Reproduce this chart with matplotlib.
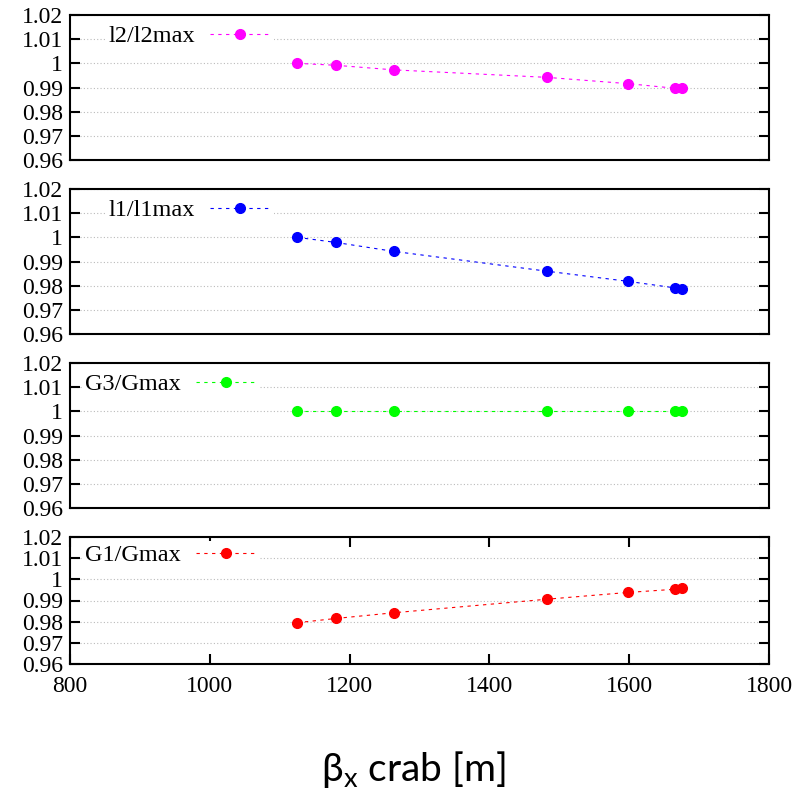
import numpy as np
import matplotlib
matplotlib.use("Agg")
import matplotlib.pyplot as plt
from matplotlib.ticker import FuncFormatter

# ---------------- data ----------------
beta_x = [1125, 1180, 1263, 1482, 1598, 1665, 1675]
l2_ratio = [1.0, 0.9992, 0.9973, 0.9942, 0.9916, 0.9897, 0.9896]
l1_ratio = [1.0, 0.9979, 0.9942, 0.9860, 0.9818, 0.9791, 0.9787]
g3_ratio = [1.0, 1.0, 1.0, 1.0, 1.0, 1.0, 1.0]
g1_ratio = [0.9795, 0.9815, 0.9842, 0.9906, 0.9938, 0.9953, 0.9958]
labels = ["l2/l2max", "l1/l1max", "G3/Gmax", "G1/Gmax"]
colors = ["#ff00ff", "#0000ff", "#00ff00", "#ff0000"]
series = [l2_ratio, l1_ratio, g3_ratio, g1_ratio]
y_ticks = [0.96, 0.97, 0.98, 0.99, 1.0, 1.01, 1.02]
x_ticks = [800, 1000, 1200, 1400, 1600, 1800]

plt.rcParams["font.family"] = ["Liberation Serif", "DejaVu Serif"]
plt.rcParams["mathtext.fontset"] = "custom"
plt.rcParams["mathtext.rm"] = "Lato"

W, H = 805, 791
fig = plt.figure(figsize=(W / 100, H / 100), dpi=100)

# panel boxes in pixels: (top, bottom)
boxes = [(15, 160), (189, 334), (363, 508), (537, 664)]
left_px, right_px = 70, 769
# legend anchor (right edge px)
leg_right = [274, 274, 260, 260]

for i, (top, bot) in enumerate(boxes):
    ax = fig.add_axes([left_px / W, 1 - bot / H, (right_px - left_px) / W, (bot - top) / H])
    ax.plot(beta_x, series[i], ls=(0, (3, 4)), lw=0.8, color=colors[i],
            marker="o", ms=7, mec=colors[i], mfc=colors[i], label=labels[i], zorder=3)
    ax.set_xlim(800, 1800)
    ax.set_ylim(0.96, 1.02)
    ax.set_yticks(y_ticks)
    ax.yaxis.set_major_formatter(FuncFormatter(lambda v, p: f"{v:g}"))
    ax.grid(axis="y", ls=(0, (1, 2)), color="#bbbbbb", lw=0.8)
    for s in ax.spines.values():
        s.set_linewidth(1.5)
    ax.tick_params(axis="y", direction="in", length=7, width=1.5, left=True, right=True,
                   labelsize=17, pad=5)
    if i == 3:
        ax.set_xticks(x_ticks)
        ax.tick_params(axis="x", direction="in", length=7, width=1.5, top=True, bottom=True,
                       labelsize=17, pad=9)
    else:
        ax.set_xticks([])
    hx = (leg_right[i] - left_px) / (right_px - left_px)
    ax.legend(loc="center right", bbox_to_anchor=(hx, 0.855), markerfirst=False,
              frameon=True, fancybox=False, framealpha=1.0, edgecolor="none",
              fontsize=17.5, handlelength=2.5, handletextpad=0.6, borderpad=0.15,
              borderaxespad=0)

fig.text(413 / W, 1 - 770 / H, r"β$_{\mathrm{x}}$ crab [m]", ha="center", va="center",
         fontsize=28, family=["Lato", "DejaVu Sans"])

fig.savefig("out.png", dpi=100)
